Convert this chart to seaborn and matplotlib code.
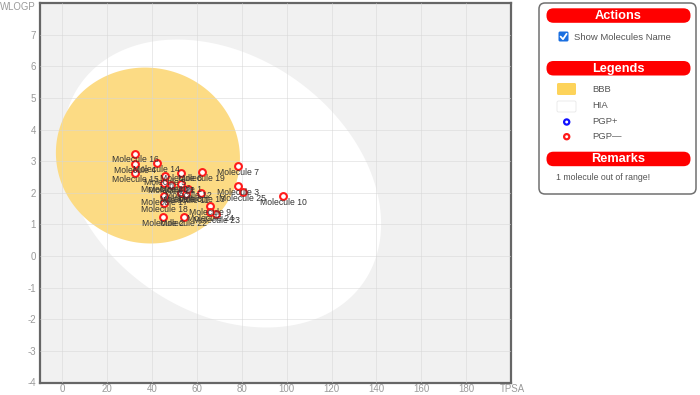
import numpy as np
import pandas as pd
import matplotlib
matplotlib.use("Agg")
import matplotlib.pyplot as plt
import seaborn as sns
from matplotlib.patches import FancyBboxPatch, Circle

# molecules (TPSA, WLOGP)
names = ["Molecule 1", "Molecule 2", "Molecule 3", "Molecule 4", "Molecule 5",
         "Molecule 6", "Molecule 7", "Molecule 8", "Molecule 9", "Molecule 10",
         "Molecule 11", "Molecule 12", "Molecule 13", "Molecule 14", "Molecule 15",
         "Molecule 16", "Molecule 17", "Molecule 18", "Molecule 19", "Molecule 20",
         "Molecule 21", "Molecule 22", "Molecule 23", "Molecule 24", "Molecule 25"]
tpsa = [52.7, 44.7, 78.1, 32.4, 45.7,
        52.7, 78.1, 52.7, 65.8, 98.4,
        55.1, 56.1, 62.0, 42.0, 32.4,
        32.4, 45.4, 45.4, 62.1, 45.4,
        48.4, 54.2, 68.5, 65.8, 80.4]
wlogp = [2.29, 1.22, 2.21, 2.92, 2.52,
         2.64, 2.85, 1.99, 1.58, 1.90,
         1.95, 2.11, 1.99, 2.94, 2.61,
         3.24, 1.89, 1.68, 2.66, 2.32,
         2.26, 1.22, 1.34, 1.39, 2.01]

x_ticks = list(range(0, 181, 20))
y_ticks = list(range(-4, 8))

# egg regions: centre x, centre y, half width, half height, angle (deg)
hia_egg = (71.051, 2.292, 71.04, 4.37, -1.031)
bbb_egg = (38.117, 3.177, 41.03, 2.78, -0.12)

df = pd.DataFrame({"name": names, "TPSA": tpsa, "WLOGP": wlogp})


def egg_outline(cx, cy, a, b, ang):
    t = np.linspace(0, 2 * np.pi, 300)
    th = np.deg2rad(ang)
    x = cx + a * np.cos(t) * np.cos(th) - b * np.sin(t) * np.sin(th)
    y = cy + a * np.cos(t) * np.sin(th) + b * np.sin(t) * np.cos(th)
    return x, y


sns.set_theme(style="white")
plt.rcParams["font.family"] = ["Liberation Sans", "DejaVu Sans"]
plt.rcParams["axes.unicode_minus"] = False

fig = plt.figure(figsize=(7, 3.95), dpi=100)
ax = fig.add_axes([40 / 700, 12.5 / 395, 471 / 700, 379.5 / 395])
ax.set_facecolor("#f1f1f1")

hx, hy = egg_outline(*hia_egg)
ax.fill(hx, hy, color="white", zorder=1, lw=0)
bx, by = egg_outline(*bbb_egg)
ax.fill(bx, by, color="#fcdb84", zorder=1.2, lw=0)

sns.scatterplot(data=df, x="TPSA", y="WLOGP", ax=ax, marker="o", s=24,
                color="white", edgecolor="#ff1a1a", linewidth=1.5, zorder=5,
                legend=False)
for n, xv, yv in zip(names, tpsa, wlogp):
    ax.annotate(n, (xv, yv), xytext=(0, -4.6), textcoords="offset points",
                ha="center", va="center", fontsize=6.2, color="#333333",
                zorder=6)

ax.set_xlim(-10, 200)
ax.set_ylim(-4, 8)
ax.set_xticks(x_ticks)
ax.set_yticks(y_ticks)
ax.set_axisbelow(False)
ax.grid(True, color="#d6d6d6", lw=0.6, alpha=0.6)
ax.tick_params(length=0, labelsize=7.0, labelcolor="#9a9a9a", pad=3)
ax.tick_params(axis="x", pad=1.2)
ax.set_xlabel("")
ax.set_ylabel("")
for sp in ax.spines.values():
    sp.set_visible(True)
    sp.set_color("#666666")
    sp.set_linewidth(1.6)

# overlay in pixel units for side panel and axis names
ov = fig.add_axes([0, 0, 1, 1], facecolor="none")
ov.set_xlim(0, 700)
ov.set_ylim(395, 0)
ov.axis("off")

ov.text(36, 7.5, "WLOGP", ha="right", va="center", fontsize=6.9, color="#9a9a9a")
ov.text(512, 389, "TPSA", ha="center", va="center", fontsize=6.9, color="#9a9a9a")

ov.add_patch(FancyBboxPatch((539, 3), 157, 191, boxstyle="round,pad=0,rounding_size=6",
                            fc="white", ec="#707070", lw=1.1))


def pill(y0, label):
    ov.add_patch(FancyBboxPatch((546.5, y0), 144, 14.5,
                                boxstyle="round,pad=0,rounding_size=7",
                                fc="#ff0000", ec="none"))
    ov.text(618.5, y0 + 7.6, label, ha="center", va="center", color="white",
            fontsize=9.2, fontweight="bold")


pill(8.3, "Actions")
pill(61, "Legends")
pill(151.7, "Remarks")

# checkbox
ov.add_patch(FancyBboxPatch((558.5, 31.5), 10, 10, boxstyle="round,pad=0,rounding_size=1.5",
                            fc="#1a6fe0", ec="none"))
ov.plot([560.6, 563, 566.6], [36.6, 39.2, 33.8], color="white", lw=1.3,
        solid_capstyle="round")
ov.text(574, 37, "Show Molecules Name", ha="left", va="center", fontsize=6.8,
        color="#555555")

ov.add_patch(FancyBboxPatch((557, 83), 19, 12, boxstyle="round,pad=0,rounding_size=1.5",
                            fc="#fdd35a", ec="none"))
ov.text(592, 89.3, "BBB", ha="left", va="center", fontsize=6.8, color="#555555")
ov.add_patch(FancyBboxPatch((557, 101), 19, 11, boxstyle="round,pad=0,rounding_size=1.5",
                            fc="white", ec="#e8e8e8", lw=0.6))
ov.text(592, 106, "HIA", ha="left", va="center", fontsize=6.8, color="#555555")
ov.add_patch(Circle((566.7, 122), 2.6, fc="white", ec="#1010ff", lw=1.6))
ov.text(592, 122, "PGP+", ha="left", va="center", fontsize=6.8, color="#555555")
ov.add_patch(Circle((566.7, 136.7), 2.6, fc="white", ec="#ff1a1a", lw=1.6))
ov.text(592, 136.7, "PGP\u2014", ha="left", va="center", fontsize=6.8, color="#555555")

ov.text(555.5, 177.7, "1 molecule out of range!", ha="left", va="center",
        fontsize=6.3, color="#555555")

fig.savefig("out.png", dpi=100)
